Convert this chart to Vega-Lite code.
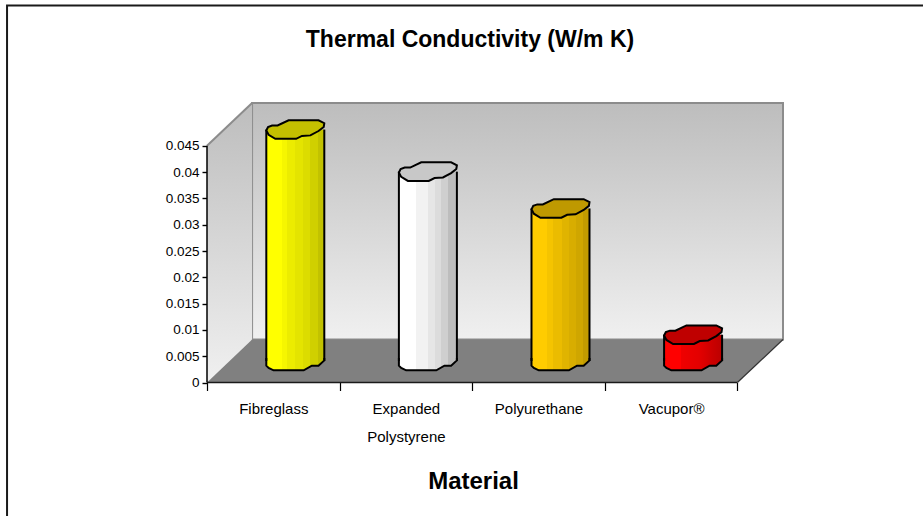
{
"$schema":"https://vega.github.io/schema/vega-lite/v6.json",
"width":576,"height":279.5,"autosize":"none","padding":{"left":207,"top":103,"right":140,"bottom":133.5},
"background":"white",
"title":{"text":"Thermal Conductivity (W/m K)","font":"Liberation Sans","fontSize":23,"fontWeight":"bold","color":"#000000","anchor":"middle","dx":-25,"offset":-48},
"datasets":{
"materials":[
{"material":"Fibreglass","value":0.044,"base":0,"start":0.2813,"center":0.5,"end":0.7187},
{"material":"Expanded Polystyrene","value":0.036,"base":0,"start":1.2813,"center":1.5,"end":1.7187},
{"material":"Polyurethane","value":0.029,"base":0,"start":2.2813,"center":2.5,"end":2.7187},
{"material":"Vacupor®","value":0.005,"base":0,"start":3.2813,"center":3.5,"end":3.7187}],
"frame":[{"x":-1.508,"x2":7,"y":-0.05,"y2":0.0717}],
"back":[{"x":0.34,"x2":4.344,"y":0.00817,"y2":0.05314}],
"side":[{"x":0,"y":0,"y2":0.045},{"x":0.34,"y":0.00817,"y2":0.05314}],
"floor":[{"y":0,"x":0,"x2":4},{"y":0.00817,"x":0.34,"x2":4.344}],
"edges":[{"e":"a","x":0,"y":0.045},{"e":"a","x":0.34,"y":0.05314}],
"edgeR":[{"e":"b","x":4,"y":0},{"e":"b","x":4.344,"y":0.00817}],
"front":[{"x":0,"x2":4,"y":0}],
"yline":[{"x":0,"y":0,"y2":0.045}]
},
"layer":[
{"data":{"name":"frame"},"mark":{"type":"rect","fill":"transparent","stroke":"#1a1a1a","strokeWidth":2},
 "encoding":{"x":{"field":"x","type":"quantitative","scale":{"domain":[0,4.344],"nice":false,"zero":false},"axis":{"tickCount":8,"domain":false,"grid":false,"tickSize":8,"tickColor":"#000000","tickWidth":1.2,"tickOpacity":{"condition":{"test":"datum.value%1!==0","value":0},"value":1},"labelColor":"#000000","labelFont":"Liberation Sans","labelFontSize":15,"labelPadding":11,"labelLineHeight":28,"labelBound":false,"labelFlush":false,"labelOverlap":false,"labelExpr":"datum.value===0.5?'Fibreglass':datum.value===1.5?['Expanded','Polystyrene']:datum.value===2.5?'Polyurethane':datum.value===3.5?'Vacupor®':''","title":"Material","titleFont":"Liberation Sans","titleFontSize":24,"titleFontWeight":"bold","titleColor":"#000000","titleX":266,"titleY":87}},"x2":{"field":"x2"},
 "y":{"field":"y","type":"quantitative","scale":{"domain":[0,0.05314],"nice":false,"zero":false},"axis":{"tickCount":10,"title":null,"grid":false,"domain":false,"tickSize":5,"tickColor":"#000000","tickWidth":1.4,"tickOpacity":{"condition":{"test":"datum.value>0.046","value":0},"value":1},"labelColor":"#000000","labelFont":"Liberation Sans","labelFontSize":13.5,"labelPadding":3,"labelOverlap":false,"labelBound":false,"labelExpr":"datum.value>0.046?'':format(datum.value,'.3~f')"}},"y2":{"field":"y2"}}},
{"data":{"name":"back"},"mark":{"type":"rect","stroke":"#8c8c8c","strokeWidth":2,"fill":{"gradient":"linear","x1":0,"y1":0,"x2":0,"y2":1,"stops":[{"offset":0,"color":"#bdbdbd"},{"offset":1,"color":"#f0f0f0"}]}},
 "encoding":{"x":{"field":"x","type":"quantitative"},"x2":{"field":"x2"},"y":{"field":"y","type":"quantitative"},"y2":{"field":"y2"}}},
{"data":{"name":"side"},"mark":{"type":"area","orient":"vertical","fill":{"gradient":"linear","x1":0,"y1":0,"x2":0,"y2":1,"stops":[{"offset":0,"color":"#bdbdbd"},{"offset":1,"color":"#f0f0f0"}]}},
 "encoding":{"x":{"field":"x","type":"quantitative"},"y":{"field":"y","type":"quantitative"},"y2":{"field":"y2"}}},
{"data":{"name":"floor"},"mark":{"type":"area","orient":"horizontal","fill":"#808080"},
 "encoding":{"y":{"field":"y","type":"quantitative"},"x":{"field":"x","type":"quantitative"},"x2":{"field":"x2"}}},
{"data":{"name":"edges"},"mark":{"type":"line","stroke":"#8c8c8c","strokeWidth":2},
 "encoding":{"x":{"field":"x","type":"quantitative"},"y":{"field":"y","type":"quantitative"}}},
{"data":{"name":"edgeR"},"mark":{"type":"line","stroke":"#333333","strokeWidth":1.2},
 "encoding":{"x":{"field":"x","type":"quantitative"},"y":{"field":"y","type":"quantitative"}}},
{"data":{"name":"front"},"mark":{"type":"rule","stroke":"#1a1a1a","strokeWidth":1.5},
 "encoding":{"x":{"field":"x","type":"quantitative"},"x2":{"field":"x2"},"y":{"field":"y","type":"quantitative"}}},
{"data":{"name":"yline"},"mark":{"type":"rule","stroke":"#000000","strokeWidth":1.5},
 "encoding":{"x":{"field":"x","type":"quantitative"},"y":{"field":"y","type":"quantitative"},"y2":{"field":"y2"}}},

{"data":{"name":"materials"},"transform":[{"filter":"datum.material==='Fibreglass'"}],
 "layer":[
 {"mark":{"type":"rect","xOffset":22,"x2Offset":22,"yOffset":-21.5,"y2Offset":-21.5,"fill":{"gradient":"linear","x1":0,"y1":0,"x2":1,"y2":0,"stops":[{"offset":0,"color":"#ffff00"},{"offset":0.27,"color":"#ffff00"},{"offset":0.27,"color":"#f6f600"},{"offset":0.36,"color":"#f6f600"},{"offset":0.36,"color":"#ecec00"},{"offset":0.5,"color":"#ecec00"},{"offset":0.5,"color":"#e4e400"},{"offset":0.64,"color":"#e4e400"},{"offset":0.64,"color":"#dcdc00"},{"offset":0.76,"color":"#dcdc00"},{"offset":0.76,"color":"#d0d000"},{"offset":0.9,"color":"#d0d000"},{"offset":0.9,"color":"#c2c200"},{"offset":1,"color":"#c2c200"}]}},
  "encoding":{"x":{"field":"start","type":"quantitative"},"x2":{"field":"end"},"y":{"field":"value","type":"quantitative"},"y2":{"field":"base"}}},
 {"mark":{"type":"point","filled":true,"opacity":1,"size":3364,"strokeWidth":0,"xOffset":22,"yOffset":-21.5,"shape":"M-1,-0.1L-1,0.16L-0.92,0.24L-0.75,0.32L0.29,0.32L0.57,0.16L0.8,0.16L1,-0.02L1,-0.1Z","fill":{"gradient":"linear","x1":0,"y1":0,"x2":1,"y2":0,"stops":[{"offset":0,"color":"#ffff00"},{"offset":0.27,"color":"#ffff00"},{"offset":0.27,"color":"#f6f600"},{"offset":0.36,"color":"#f6f600"},{"offset":0.36,"color":"#ecec00"},{"offset":0.5,"color":"#ecec00"},{"offset":0.5,"color":"#e4e400"},{"offset":0.64,"color":"#e4e400"},{"offset":0.64,"color":"#dcdc00"},{"offset":0.76,"color":"#dcdc00"},{"offset":0.76,"color":"#d0d000"},{"offset":0.9,"color":"#d0d000"},{"offset":0.9,"color":"#c2c200"},{"offset":1,"color":"#c2c200"}]}},
  "encoding":{"x":{"field":"center","type":"quantitative"},"y":{"field":"base","type":"quantitative"}}}
 ]},
{"data":{"name":"materials"},"transform":[{"filter":"datum.material==='Expanded Polystyrene'"}],
 "layer":[
 {"mark":{"type":"rect","xOffset":22,"x2Offset":22,"yOffset":-21.5,"y2Offset":-21.5,"fill":{"gradient":"linear","x1":0,"y1":0,"x2":1,"y2":0,"stops":[{"offset":0,"color":"#ffffff"},{"offset":0.3,"color":"#ffffff"},{"offset":0.3,"color":"#f2f2f2"},{"offset":0.5,"color":"#f2f2f2"},{"offset":0.5,"color":"#e6e6e6"},{"offset":0.62,"color":"#e6e6e6"},{"offset":0.62,"color":"#dcdcdc"},{"offset":0.72,"color":"#dcdcdc"},{"offset":0.72,"color":"#cfcfcf"},{"offset":0.85,"color":"#cfcfcf"},{"offset":0.85,"color":"#bdbdbd"},{"offset":1,"color":"#bdbdbd"}]}},
  "encoding":{"x":{"field":"start","type":"quantitative"},"x2":{"field":"end"},"y":{"field":"value","type":"quantitative"},"y2":{"field":"base"}}},
 {"mark":{"type":"point","filled":true,"opacity":1,"size":3364,"strokeWidth":0,"xOffset":22,"yOffset":-21.5,"shape":"M-1,-0.1L-1,0.16L-0.92,0.24L-0.75,0.32L0.29,0.32L0.57,0.16L0.8,0.16L1,-0.02L1,-0.1Z","fill":{"gradient":"linear","x1":0,"y1":0,"x2":1,"y2":0,"stops":[{"offset":0,"color":"#ffffff"},{"offset":0.3,"color":"#ffffff"},{"offset":0.3,"color":"#f2f2f2"},{"offset":0.5,"color":"#f2f2f2"},{"offset":0.5,"color":"#e6e6e6"},{"offset":0.62,"color":"#e6e6e6"},{"offset":0.62,"color":"#dcdcdc"},{"offset":0.72,"color":"#dcdcdc"},{"offset":0.72,"color":"#cfcfcf"},{"offset":0.85,"color":"#cfcfcf"},{"offset":0.85,"color":"#bdbdbd"},{"offset":1,"color":"#bdbdbd"}]}},
  "encoding":{"x":{"field":"center","type":"quantitative"},"y":{"field":"base","type":"quantitative"}}}
 ]},
{"data":{"name":"materials"},"transform":[{"filter":"datum.material==='Polyurethane'"}],
 "layer":[
 {"mark":{"type":"rect","xOffset":22,"x2Offset":22,"yOffset":-21.5,"y2Offset":-21.5,"fill":{"gradient":"linear","x1":0,"y1":0,"x2":1,"y2":0,"stops":[{"offset":0,"color":"#ffcc00"},{"offset":0.27,"color":"#ffcc00"},{"offset":0.27,"color":"#f5c400"},{"offset":0.37,"color":"#f5c400"},{"offset":0.37,"color":"#ebbc00"},{"offset":0.52,"color":"#ebbc00"},{"offset":0.52,"color":"#e0b400"},{"offset":0.64,"color":"#e0b400"},{"offset":0.64,"color":"#d8ad00"},{"offset":0.76,"color":"#d8ad00"},{"offset":0.76,"color":"#cfa600"},{"offset":0.88,"color":"#cfa600"},{"offset":0.88,"color":"#c29b00"},{"offset":1,"color":"#c29b00"}]}},
  "encoding":{"x":{"field":"start","type":"quantitative"},"x2":{"field":"end"},"y":{"field":"value","type":"quantitative"},"y2":{"field":"base"}}},
 {"mark":{"type":"point","filled":true,"opacity":1,"size":3364,"strokeWidth":0,"xOffset":22,"yOffset":-21.5,"shape":"M-1,-0.1L-1,0.16L-0.92,0.24L-0.75,0.32L0.29,0.32L0.57,0.16L0.8,0.16L1,-0.02L1,-0.1Z","fill":{"gradient":"linear","x1":0,"y1":0,"x2":1,"y2":0,"stops":[{"offset":0,"color":"#ffcc00"},{"offset":0.27,"color":"#ffcc00"},{"offset":0.27,"color":"#f5c400"},{"offset":0.37,"color":"#f5c400"},{"offset":0.37,"color":"#ebbc00"},{"offset":0.52,"color":"#ebbc00"},{"offset":0.52,"color":"#e0b400"},{"offset":0.64,"color":"#e0b400"},{"offset":0.64,"color":"#d8ad00"},{"offset":0.76,"color":"#d8ad00"},{"offset":0.76,"color":"#cfa600"},{"offset":0.88,"color":"#cfa600"},{"offset":0.88,"color":"#c29b00"},{"offset":1,"color":"#c29b00"}]}},
  "encoding":{"x":{"field":"center","type":"quantitative"},"y":{"field":"base","type":"quantitative"}}}
 ]},
{"data":{"name":"materials"},"transform":[{"filter":"datum.material==='Vacupor®'"}],
 "layer":[
 {"mark":{"type":"rect","xOffset":22,"x2Offset":22,"yOffset":-21.5,"y2Offset":-21.5,"fill":{"gradient":"linear","x1":0,"y1":0,"x2":1,"y2":0,"stops":[{"offset":0,"color":"#ff0000"},{"offset":0.3,"color":"#ff0000"},{"offset":0.3,"color":"#ef0000"},{"offset":0.6,"color":"#e40000"},{"offset":0.72,"color":"#d80000"},{"offset":0.82,"color":"#cc0000"},{"offset":1,"color":"#bb0000"}]}},
  "encoding":{"x":{"field":"start","type":"quantitative"},"x2":{"field":"end"},"y":{"field":"value","type":"quantitative"},"y2":{"field":"base"}}},
 {"mark":{"type":"point","filled":true,"opacity":1,"size":3364,"strokeWidth":0,"xOffset":22,"yOffset":-21.5,"shape":"M-1,-0.1L-1,0.16L-0.92,0.24L-0.75,0.32L0.29,0.32L0.57,0.16L0.8,0.16L1,-0.02L1,-0.1Z","fill":{"gradient":"linear","x1":0,"y1":0,"x2":1,"y2":0,"stops":[{"offset":0,"color":"#ff0000"},{"offset":0.3,"color":"#ff0000"},{"offset":0.3,"color":"#ef0000"},{"offset":0.6,"color":"#e40000"},{"offset":0.72,"color":"#d80000"},{"offset":0.82,"color":"#cc0000"},{"offset":1,"color":"#bb0000"}]}},
  "encoding":{"x":{"field":"center","type":"quantitative"},"y":{"field":"base","type":"quantitative"}}}
 ]},

{"data":{"name":"materials"},"mark":{"type":"rule","stroke":"#000000","strokeWidth":2,"xOffset":22,"yOffset":-21.5,"y2Offset":-21.5},
 "encoding":{"x":{"field":"start","type":"quantitative"},"y":{"field":"value","type":"quantitative"},"y2":{"field":"base"}}},
{"data":{"name":"materials"},"mark":{"type":"rule","stroke":"#000000","strokeWidth":2,"xOffset":22,"yOffset":-21.5,"y2Offset":-21.5},
 "encoding":{"x":{"field":"end","type":"quantitative"},"y":{"field":"value","type":"quantitative"},"y2":{"field":"base"}}},
{"data":{"name":"materials"},"mark":{"type":"point","filled":false,"opacity":1,"size":3364,"stroke":"#000000","strokeWidth":2,"xOffset":22,"yOffset":-21.5,"shape":"M-1,-0.1L-1,0.16L-0.92,0.24L-0.75,0.32L0.29,0.32L0.57,0.16L0.8,0.16L1,-0.02L1,-0.1"},
 "encoding":{"x":{"field":"center","type":"quantitative"},"y":{"field":"base","type":"quantitative"}}},
{"data":{"name":"materials"},"mark":{"type":"point","filled":true,"opacity":1,"size":3364,"stroke":"#000000","strokeWidth":2,"xOffset":22,"yOffset":-21.5,"shape":"M-1,0.03L-0.94,-0.09L-0.8,-0.14L-0.61,-0.14L-0.23,-0.32L0.8,-0.32L1,-0.22L0.98,-0.09L0.8,0.05L0.52,0.2L0.23,0.22L0.03,0.32L-0.69,0.32L-0.92,0.18Z"},
 "encoding":{"x":{"field":"center","type":"quantitative"},"y":{"field":"value","type":"quantitative"},
 "color":{"field":"material","type":"nominal","legend":null,"scale":{"domain":["Fibreglass","Expanded Polystyrene","Polyurethane","Vacupor®"],"range":["#c4c000","#c8c8c8","#bf9900","#bf0000"]}}}}
],
"config":{"style":{"cell":{"stroke":null}},"view":{"stroke":null}}
}
